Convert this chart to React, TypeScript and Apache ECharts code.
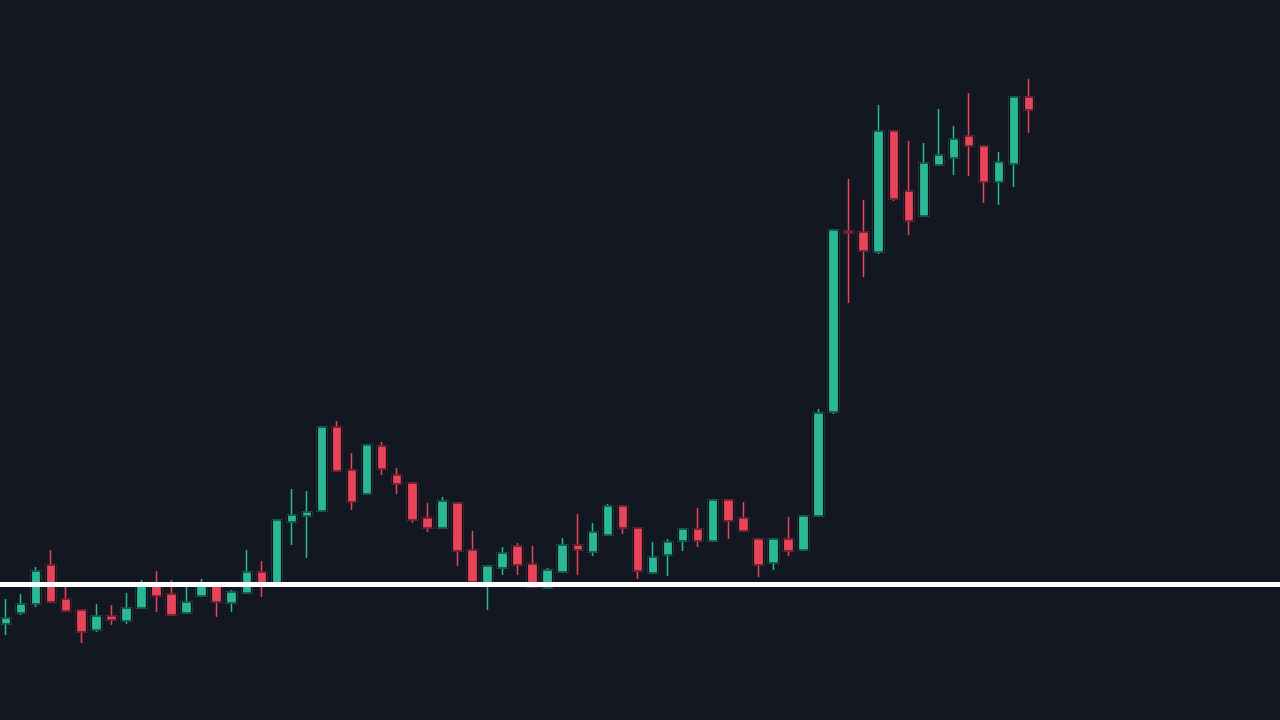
import React, { useEffect, useRef } from "react";
import * as echarts from "echarts";

const opens = [9.6, 10.7, 11.6, 15.5, 12.1, 11.0, 9.0, 10.4, 9.9, 11.2, 13.5, 12.6, 10.7, 12.4, 13.5, 11.7, 12.7, 14.8, 13.6, 19.8, 20.4, 20.9, 29.3, 25.0, 22.6, 27.4, 24.5, 23.7, 20.2, 19.2, 21.7, 17.0, 13.7, 15.2, 17.4, 15.6, 13.2, 14.8, 17.5, 16.8, 18.5, 21.4, 19.2, 14.7, 16.5, 17.9, 19.1, 17.9, 22.0, 20.2, 18.1, 15.7, 18.1, 17.0, 20.4, 30.8, 48.9, 48.8, 46.8, 58.9, 52.9, 50.4, 55.5, 56.2, 58.4, 57.4, 53.8, 55.6, 62.3];
const closes = [10.2, 11.6, 14.9, 11.8, 10.9, 8.8, 10.4, 10.0, 11.2, 13.7, 12.4, 10.5, 11.8, 13.5, 11.8, 12.8, 14.8, 13.7, 20.0, 20.5, 20.8, 29.3, 24.9, 21.8, 27.5, 25.1, 23.6, 20.0, 19.2, 21.9, 16.9, 13.8, 15.4, 16.7, 15.5, 13.3, 15.0, 17.5, 17.0, 18.8, 21.4, 19.2, 14.9, 16.3, 17.8, 19.1, 17.9, 22.0, 19.9, 18.9, 15.5, 18.1, 16.9, 20.4, 30.7, 49.0, 48.7, 46.9, 58.9, 52.1, 49.9, 55.7, 56.5, 58.1, 57.4, 53.8, 55.8, 62.3, 61.0];
const lows = [8.5, 10.5, 11.3, 11.7, 10.8, 7.7, 8.8, 9.5, 9.6, 11.1, 10.8, 10.4, 10.6, 12.3, 10.3, 10.8, 12.6, 12.3, 13.5, 17.5, 16.2, 20.8, 24.8, 21.0, 22.5, 24.5, 22.6, 19.7, 18.8, 19.1, 15.4, 13.7, 11.0, 14.5, 14.5, 13.2, 13.1, 14.7, 14.5, 16.4, 18.4, 18.6, 14.1, 14.6, 14.4, 16.9, 17.3, 17.8, 18.1, 18.8, 14.3, 15.0, 16.4, 16.9, 20.3, 30.6, 41.7, 44.3, 46.6, 51.9, 48.5, 50.3, 55.4, 54.5, 54.4, 51.7, 51.5, 53.3, 58.7];
const highs = [12.1, 12.6, 15.3, 17.0, 13.3, 11.1, 11.6, 11.5, 12.7, 14.0, 14.9, 14.0, 13.4, 14.1, 13.7, 13.0, 17.0, 15.9, 20.1, 23.1, 22.9, 29.4, 29.9, 26.7, 27.6, 27.8, 25.2, 23.8, 21.7, 22.3, 21.8, 18.9, 15.5, 17.3, 17.7, 17.4, 15.2, 18.2, 20.6, 19.7, 21.6, 21.5, 19.3, 17.8, 18.1, 19.2, 21.2, 22.1, 22.1, 21.8, 18.2, 18.2, 20.3, 20.5, 31.1, 49.1, 54.1, 52.0, 61.5, 59.0, 57.9, 57.7, 61.1, 59.4, 62.7, 57.5, 56.8, 62.4, 64.1];
const baseLevel = 13.55;
// 69 bars drawn, followed by empty slots (blank space on the right of the chart)
const SLOT_COUNT = 86;
const categories = Array.from({ length: SLOT_COUNT }, (_, i) => "Bar " + (i + 1));

const UP = "#2bb896";
const DOWN = "#e8445a";
const BG = "#131722";
const OUTLINE = "#0c0f16";

export default function App() {
  const ref = useRef<HTMLDivElement>(null);
  useEffect(() => {
    document.body.style.margin = "0";
    document.body.style.background = BG;
    const chart = echarts.init(ref.current!, undefined, { renderer: "svg" });
    const full = opens.map((o, i) => [o, closes[i], lows[i], highs[i]]);
    const bodies = opens.map((o, i) => [o, closes[i], Math.min(o, closes[i]), Math.max(o, closes[i])]);
    chart.setOption({
      animation: false,
      backgroundColor: BG,
      grid: { left: -1.5, width: 1294, top: 0, height: 720, outerBoundsMode: "none", containLabel: false },
      xAxis: {
        type: "category",
        data: categories,
        show: false,
        boundaryGap: true,
      },
      yAxis: { type: "value", min: 0, max: 72, show: false, splitLine: { show: false } },
      series: [
        {
          type: "candlestick",
          data: full,
          barWidth: 10,
          silent: true,
          itemStyle: { color: UP, color0: DOWN, borderColor: UP, borderColor0: DOWN, borderWidth: 1.5 },
        },
        {
          type: "candlestick",
          data: bodies,
          barWidth: 10,
          silent: true,
          itemStyle: { color: UP, color0: DOWN, borderColor: OUTLINE, borderColor0: OUTLINE, borderWidth: 1.2 },
          markLine: {
            silent: true,
            symbol: ["none", "none"],
            label: { show: false },
            lineStyle: { color: "#ffffff", width: 5, type: "solid" },
            data: [{ yAxis: baseLevel }],
          },
        },
      ],
    });
    return () => chart.dispose();
  }, []);
  return <div ref={ref} style={{ position: "fixed", left: 0, top: 0, width: 1280, height: 720 }} />;
}
